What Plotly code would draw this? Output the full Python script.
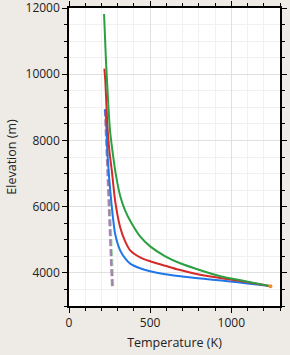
import plotly.graph_objects as go

# Plume temperature profiles (T in K, elevation in m)
blue_T = [1241, 1086, 994, 883, 778, 673, 593, 500, 438, 377, 346, 315, 284, 264, 247, 236, 228, 222]
blue_z = [3600, 3690, 3741, 3795, 3846, 3906, 3960, 4050, 4140, 4280, 4440, 4680, 5180, 5980, 6880, 7680, 8640, 8940]

red_T = [1241, 1086, 994, 883, 778, 673, 593, 500, 438, 377, 346, 315, 284, 264, 249, 235, 224, 218]
red_z = [3600, 3735, 3800, 3880, 3975, 4100, 4215, 4350, 4470, 4680, 4950, 5380, 6180, 7080, 7680, 8580, 9780, 10170]

green_T = [1241, 1086, 932, 809, 685, 593, 500, 438, 383, 346, 315, 290, 272, 253, 241, 228, 216]
green_z = [3600, 3750, 3900, 4080, 4290, 4500, 4800, 5100, 5520, 5880, 6330, 6930, 7530, 8280, 9180, 10380, 11820]

# Ambient temperature profiles (dashed)
amb_purple_T = [266, 222]
amb_purple_z = [3600, 8940]
amb_green_T = [273, 229]
amb_green_z = [3600, 8940]

vent_T = [1241]
vent_z = [3600]

fig = go.Figure()
fig.add_trace(go.Scatter(x=amb_green_T, y=amb_green_z, mode="lines",
                         line=dict(color="rgba(110,200,120,0.6)", width=2, dash="7px,3px")))
fig.add_trace(go.Scatter(x=amb_purple_T, y=amb_purple_z, mode="lines",
                         line=dict(color="rgba(150,105,160,0.8)", width=2.5, dash="7px,3px")))
fig.add_trace(go.Scatter(x=blue_T, y=blue_z, mode="lines",
                         line=dict(color="#2176e8", width=2, shape="spline", smoothing=0.6)))
fig.add_trace(go.Scatter(x=red_T, y=red_z, mode="lines",
                         line=dict(color="#d42a2a", width=2, shape="spline", smoothing=0.6)))
fig.add_trace(go.Scatter(x=green_T, y=green_z, mode="lines",
                         line=dict(color="#2aa040", width=2, shape="spline", smoothing=0.6)))
fig.add_trace(go.Scatter(x=vent_T, y=vent_z, mode="markers",
                         marker=dict(color="#f08a24", size=4)))

axis_common = dict(
    showline=True, linecolor="black", linewidth=1.5, mirror="allticks",
    ticks="outside", ticklen=5, tickwidth=1.2, tickcolor="black",
    showgrid=True, gridcolor="#e0e0e0", gridwidth=1,
    zeroline=False, ticklabeloverflow="allow",
    tickfont=dict(family="Open Sans", size=12, color="#222"),
)

fig.update_xaxes(range=[0, 1300], tick0=0, dtick=500, tickformat="d",
                 minor=dict(dtick=100, showgrid=True, gridcolor="#f1f1f1",
                            ticks="outside", ticklen=3, tickcolor="black"),
                 title=dict(text="Temperature (K)", standoff=8,
                            font=dict(family="Open Sans", size=12.5, color="#222")),
                 **axis_common)
fig.update_yaxes(range=[3000, 12000], tick0=0, dtick=2000, tickformat="d",
                 minor=dict(dtick=500, showgrid=True, gridcolor="#f1f1f1",
                            ticks="outside", ticklen=3, tickcolor="black"),
                 title=dict(text="Elevation (m)", standoff=6,
                            font=dict(family="Open Sans", size=12.5, color="#222")),
                 **axis_common)

fig.update_layout(
    width=290, height=355,
    margin=dict(l=69, r=10, t=8, b=49, autoexpand=False),
    paper_bgcolor="#eeebe6", plot_bgcolor="white",
    showlegend=False,
)

fig.write_html("out.html")
